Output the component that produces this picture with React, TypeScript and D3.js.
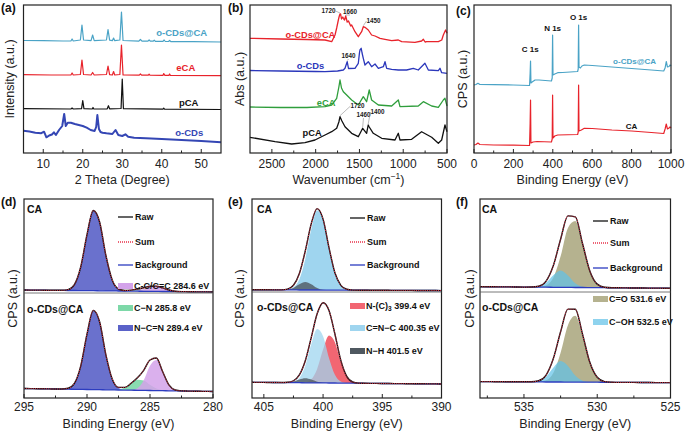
import React from "react";
import * as d3 from "d3";

const FONT = "'Liberation Sans', Arial, Helvetica, sans-serif";

// ===================== (a) XRD =====================
const xrdOCDsCA = [[5,112.5],[10,112.3],[15,112],[17,112],[17.3,114],[17.6,112],[19.4,113],[19.8,128],[20.2,113],[22.1,112.3],[22.5,118],[22.9,112.3],[26.0,113],[26.4,123.5],[26.8,112.8],[27.5,112.3],[27.8,115],[28.1,112.3],[29.4,113],[29.8,141],[30.2,112.5],[34.2,111.8],[34.6,113.5],[35,111.8],[36.5,111.8],[36.8,113],[37.1,111.8],[37.8,111.8],[38.1,112.8],[38.4,111.6],[40.3,111.6],[40.6,113],[40.9,111.5],[41.7,111.5],[42,112.5],[42.3,111.3],[48,111.3],[55,111]];
const xrdECA = [[5,78.3],[12,78],[17,78],[17.3,80],[17.6,78],[19.4,78.5],[19.8,93],[20.2,78.5],[22.1,78],[22.5,80.5],[22.9,78],[26.0,78.5],[26.4,87],[26.8,78.3],[27.5,78],[27.8,81.5],[28.1,78],[29.4,78.5],[29.8,108],[30.2,78],[34.3,77.8],[34.6,79],[34.9,77.8],[36.6,77.8],[36.8,78.8],[37.0,77.8],[40.3,77.6],[40.5,79.5],[40.8,77.6],[41.8,77.6],[42,79],[42.2,77.5],[55,77.3]];
const xrdPCA = [[5,44.3],[17,44],[17.3,45],[17.6,44],[19.7,44.3],[20.0,52.3],[20.3,44.3],[22.4,44],[22.6,45.5],[22.8,44],[26.2,44.2],[26.5,47.3],[26.8,44.2],[29.7,44.5],[30.0,74],[30.3,44.3],[40.3,43.8],[40.5,44.8],[40.7,43.8],[55,43.5]];
const xrdOCDs = [[5,22.3],[6.5,21.5],[8,20.3],[9.5,19.8],[10.2,21.3],[10.8,15.7],[11.5,17.5],[12.2,18.5],[12.7,20.7],[13.2,18],[14,23],[14.8,27],[15.3,39],[15.7,27],[16.2,30.3],[17,30.3],[18,29],[19,28],[20,27],[21,25.3],[22,23],[23,22],[23.4,26],[23.7,38],[24.1,24],[24.5,21],[25,20.3],[26,19.7],[27.5,19],[28.3,23],[29,18],[30,17],[30.8,18.7],[31.5,16.3],[33,15.3],[36,14.7],[40,14],[45,13],[50,12],[55,10.7]];
const xrdTicks = [10, 20, 30, 40, 50];
const xrdMinor = [15, 25, 35, 45];

// ===================== (b) FTIR =====================
const irOCDsCA = [[2750,114.7],[2400,114],[2100,113.5],[1893,113],[1817,111.3],[1779,118],[1760,125],[1741,133],[1730,137],[1722,139],[1715,139],[1705,134],[1690,136],[1684,134.7],[1670,133],[1657,137],[1640,131],[1625,132],[1600,127],[1589,128],[1551,121.3],[1513,116.3],[1475,121.3],[1456,126.3],[1437,125.7],[1399,123],[1361,118],[1322,117],[1265,114.7],[1208,113.7],[1132,112.3],[1056,113],[1018,111.3],[866,110.7],[790,112],[770,113.7],[750,111],[732,111.3],[599,111.3],[560,113],[542,118],[516,123],[500,119.7]];
const irOCDs = [[2750,82.5],[2400,82],[2000,81.5],[1893,81.3],[1750,82],[1684,83],[1665,84.7],[1640,91.3],[1625,84.5],[1551,84.7],[1513,89.7],[1500,100],[1494,103],[1480,104.7],[1470,100],[1456,94.7],[1437,88],[1399,91.3],[1361,86.3],[1322,89],[1284,84.7],[1227,86.3],[1208,91.3],[1189,84.7],[1132,83.7],[1056,83],[961,83],[885,84.7],[828,83],[752,89.7],[713,83],[599,82.3],[580,84.7],[561,80.3],[500,79.7]];
const irECA = [[2750,46],[2400,45.5],[2100,45.5],[1893,46.3],[1817,48],[1760,54.7],[1735,66],[1722,73],[1705,65],[1684,61.3],[1646,58],[1589,53],[1513,48],[1456,56.3],[1418,51.3],[1388,63],[1361,53],[1284,48],[1132,47],[1056,53],[1037,46.3],[828,47],[770,51.3],[675,47],[599,45.7],[542,53],[523,54.7],[500,47]];
const irPCA = [[2750,15.7],[2464,11.3],[2274,9],[2122,10.3],[2008,13],[1893,18],[1817,21.3],[1760,24.7],[1735,31],[1722,36.3],[1700,32],[1665,26.3],[1589,19.7],[1513,16.3],[1463,24.7],[1418,19.7],[1400,28],[1388,26],[1342,19.7],[1246,14.7],[1094,13],[1056,19.7],[1037,13],[904,13.7],[790,21.3],[675,15.7],[599,9.7],[561,13],[523,28],[500,21.3]];
const irTicks = [2500, 2000, 1500, 1000, 500];
const irMinor = [2250, 1750, 1250, 750];
const irPeakLabels = ["1720", "1660", "1450", "1640", "1720", "1460", "1400"];
const irPeakLabelWn = [1853, 1608, 1340, 1625, 1522, 1454, 1294];
const irPeakLabelVal = [140, 139, 130, 95, 45, 36, 39];
const irPeakWn = [1722, 1657, 1456, 1640, 1722, 1463, 1400];
const irPeakVal = [139, 137, 126.3, 91.3, 36.3, 24.7, 28];

// ===================== (c) XPS survey =====================
const surveyOCDsCA = [[0,68],[10,68.5],[20,69.7],[30,68.5],[100,68.3],[200,68],[282,67.5],[285,80],[287,92],[289,70],[295,71],[310,73],[330,73],[393,72],[397,75],[399,118],[401,78],[410,79],[425,80.3],[450,80.5],[526,81.5],[529,84],[531,128],[533,86],[540,85],[548,87],[560,88],[600,87.5],[700,86],[800,84.5],[900,83],[963,82],[970,85],[976,91.5],[982,86],[990,86.5],[995,88],[1000,87]];
const surveyCA = [[0,8],[10,8.5],[20,10],[30,8.5],[100,8],[200,7.8],[282,7.5],[285,30],[287,53],[289,10],[300,11],[320,11.5],[393,11],[397,14],[399,58],[401,15],[410,17],[425,18],[526,18.5],[529,21],[531,68],[533,22],[545,23],[560,24.7],[600,24.5],[700,23],[800,22],[900,20.5],[963,19.5],[970,24],[976,29],[982,24],[990,25],[995,26],[1000,25]];
const surveyTicks = [0, 200, 400, 600, 800, 1000];
const surveyMinor = [100, 300, 500, 700, 900];

// ===================== (d) C 1s =====================
const dGrid = [295,294.5,294,293.5,293,292.5,292,291.5,291,290.5,290,289.5,289,288.5,288,287.5,287,286.5,286,285.5,285,284.5,284,283.5,283,282.5,282,281.5,281,280.5,280];
const dBgCA = [108,107.9,107.9,107.8,107.7,107.7,107.6,107.5,107.5,107.4,107.3,107.3,107.2,107.1,107.1,107,106.9,106.9,106.8,106.7,106.7,106.6,106.5,106.5,106.4,106.3,106.3,106.2,106.1,106.1,106];
const dNCN_CA = [0,0,0,0,0,0,0.1,0.9,5.9,23.6,56.1,80.2,68.8,35.4,10.9,2.0,0.2,0,0,0,0,0,0,0,0,0,0,0,0,0,0];
const dCN_CA = [0,0,0,0,0,0,0,0,0,0,0,0,0,0,0,0,0.35,0.9,1.45,1.37,0.78,0.27,0.05,0,0,0,0,0,0,0,0];
const dCC_CA = [0,0,0,0,0,0,0,0,0,0,0,0,0,0,0,0,0,0.1,0.7,2.2,4.2,5.0,3.5,1.5,0.4,0.1,0,0,0,0,0];
const dBgO = [9.5,9.4,9.3,9.2,9.1,9.0,8.9,8.8,8.7,8.6,8.5,8.4,8.3,8.2,8.1,8.0,7.9,7.8,7.7,7.6,7.5,7.4,7.3,7.2,7.1,7.0,6.9,6.8,6.7,6.6,6.5];
const dNCN_O = [0,0,0,0,0,0,0.1,0.9,5.9,23.3,55.4,79.2,67.9,35.0,10.8,2.0,0.2,0,0,0,0,0,0,0,0,0,0,0,0,0,0];
const dCN_O = [0,0,0,0,0,0,0,0,0,0,0,0,0,0,0.1,0.6,2.5,6.7,10.5,10.0,5.7,2.0,0.4,0.1,0,0,0,0,0,0,0];
const dCC_O = [0,0,0,0,0,0,0,0,0,0,0,0,0,0,0,0,0,0.2,2.0,10.1,24.8,30.6,18.8,5.8,0.9,0.1,0,0,0,0,0];
const dTicks = [295, 290, 285, 280];
const dMinor = [292.5, 287.5, 282.5];
const dLegend = ["C-C/C=C 284.6 eV", "C\u2212N 285.8 eV", "N\u2212C=N 289.4 eV"];

// ===================== (e) N 1s =====================
const eGrid = [406,405.5,405,404.5,404,403.5,403,402.5,402,401.5,401,400.5,400,399.5,399,398.5,398,397.5,397,396.5,396,395.5,395,394.5,394,393.5,393,392.5,392,391.5,391,390.5,390];
const eBgCA = [108.2,108.2,108.2,108.2,108.1,108.1,108.1,108.1,108,108,108,108,107.9,107.9,107.9,107.9,107.8,107.8,107.8,107.8,107.7,107.7,107.7,107.7,107.6,107.6,107.6,107.6,107.5,107.5,107.5,107.5,107.4];
const eCNC_CA = [0,0,0,0,0,0,0.4,2.6,10.8,31.1,60.4,79.4,70.6,42.5,17.3,4.8,0.9,0.1,0,0,0,0,0,0,0,0,0,0,0,0,0,0,0];
const eNH_CA = [0,0,0,0,0,0,0.35,2.0,5.7,8.0,5.7,2.0,0.35,0,0,0,0,0,0,0,0,0,0,0,0,0,0,0,0,0,0,0,0];
const eBgO = [15.7,15.65,15.6,15.55,15.5,15.45,15.4,15.35,15.3,15.2,15.2,15.1,15.1,15.0,15.0,14.9,14.9,14.8,14.8,14.7,14.6,14.6,14.5,14.5,14.4,14.4,14.3,14.3,14.2,14.2,14.1,14.1,14.0];
const eCNC_O = [0,0,0,0,0,0,0.1,0.8,4.6,17.0,38.5,54.0,46.7,25.0,8.2,1.7,0.2,0,0,0,0,0,0,0,0,0,0,0,0,0,0,0,0];
const eNC3_O = [0,0,0,0,0,0,0,0,0,0.5,3.5,14.0,33.3,47.5,40.8,21.0,6.5,1.2,0.1,0,0,0,0,0,0,0,0,0,0,0,0,0,0];
const eNH_O = [0,0,0,0,0,0,0.2,1.1,3.2,4.5,3.2,1.1,0.2,0,0,0,0,0,0,0,0,0,0,0,0,0,0,0,0,0,0,0,0];
const eTicks = [405, 400, 395, 390];
const eMinor = [402.5, 397.5, 392.5];

// ===================== (f) O 1s =====================
const fGrid = [538,537.5,537,536.5,536,535.5,535,534.5,534,533.5,533,532.5,532,531.5,531,530.5,530,529.5,529,528.5,528,527.5,527,526.5,526,525.5,525];
const fBgCA = [111.3,111.2,111.2,111.1,111.1,111.0,110.9,110.9,110.8,110.8,110.7,110.6,110.6,110.5,110.5,110.4,110.3,110.3,110.2,110.2,110.1,110.0,110.0,109.9,109.9,109.8,109.7];
const fCO_CA = [0,0,0,0,0,0,0,0,0.2,1.7,9.5,31.1,59.5,66.4,43.0,16.3,3.6,0.4,0,0,0,0,0,0,0,0,0];
const fCOH_CA = [0,0,0,0,0,0,0,0.1,0.7,4.2,12.0,17.0,12.0,4.2,0.7,0.1,0,0,0,0,0,0,0,0,0,0,0];
const fBgO = [16.4,16.4,16.3,16.3,16.2,16.2,16.2,16.1,16.1,16.0,16.0,16.0,15.9,15.9,15.8,15.8,15.8,15.7,15.7,15.6,15.6,15.6,15.5,15.5,15.4,15.4,15.4];
const fCO_O = [0,0,0,0,0,0,0,0,0.2,1.7,9.0,29.3,56.9,66.3,46.4,19.5,4.9,0.7,0.1,0,0,0,0,0,0,0,0];
const fCOH_O = [0,0,0,0,0,0,0,0.1,0.9,5.0,14.2,20.9,16.1,6.5,1.4,0.1,0,0,0,0,0,0,0,0,0,0,0];
const fTicks = [535, 530, 525];
const fMinor = [537.5, 532.5, 527.5];

// ===================== colours =====================
const TEAL = "#4aa3c6";
const RED = "#e8232b";
const BLACK = "#111111";
const BLUE_A = "#3446b4";
const BLUE_B = "#2b37bb";
const GREEN = "#2f9e3c";
const BG_BLUE = "#2c3cc0";
const SUM_RED = "#e8324a";

// ===================== scales =====================
const yTop = d3.scaleLinear().domain([0, 148]).range([153, 5]);
const yBot = d3.scaleLinear().domain([0, 198]).range([398, 200]);
const xA = d3.scaleLinear().domain([5, 55]).range([23.5, 221]);
const xB = d3.scaleLinear().domain([2750, 500]).range([250, 447]);
const xC = d3.scaleLinear().domain([0, 1000]).range([474, 671]);
const xD = d3.scaleLinear().domain([295, 280]).range([24, 213]);
const xE = d3.scaleLinear().domain([406, 390]).range([252, 441.5]);
const xF = d3.scaleLinear().domain([538, 525]).range([480, 670.5]);

type Sc = d3.ScaleLinear<number, number>;

function Frame(p: {
  x: Sc; y0: number; y1: number; major: number[]; minor: number[];
  tickY: number; titleY: number; xTitle: React.ReactNode; yTitle: string; yTitleX: number;
  letter: string; lx: number; ly: number; divider?: number;
}) {
  const [x0, x1] = p.x.range();
  return (
    <g>
      <rect x={x0} y={p.y0} width={x1 - x0} height={p.y1 - p.y0} fill="none" stroke="#222" strokeWidth={1.2} />
      {p.divider !== undefined && (
        <line x1={x0} x2={x1} y1={p.divider} y2={p.divider} stroke="#555" strokeWidth={0.8} />
      )}
      {p.major.map((t) => (
        <g key={"M" + t}>
          <line x1={p.x(t)} x2={p.x(t)} y1={p.y1} y2={p.y1 - 4} stroke="#222" strokeWidth={1} />
          <text x={p.x(t)} y={p.tickY} fontSize={12} textAnchor="middle" fill="#222">{t}</text>
        </g>
      ))}
      {p.minor.map((t) => (
        <line key={"m" + t} x1={p.x(t)} x2={p.x(t)} y1={p.y1} y2={p.y1 - 2.5} stroke="#222" strokeWidth={1} />
      ))}
      <text x={(x0 + x1) / 2} y={p.titleY} fontSize={12.5} textAnchor="middle" fill="#222">{p.xTitle}</text>
      <text transform={`translate(${p.yTitleX},${(p.y0 + p.y1) / 2}) rotate(-90)`} fontSize={12.5} textAnchor="middle" fill="#222">{p.yTitle}</text>
      <text x={p.lx} y={p.ly} fontSize={12} fontWeight="bold" fill="#111">{p.letter}</text>
    </g>
  );
}

function Curve({ data, x, y, color, w = 1.2 }: { data: number[][]; x: Sc; y: Sc; color: string; w?: number }) {
  const gen = d3.line<number[]>().x((d) => x(d[0])).y((d) => y(d[1]));
  return <path d={gen(data) || ""} fill="none" stroke={color} strokeWidth={w} strokeLinejoin="round" />;
}

type Comp = { values: number[]; fill: string; opacity: number };

function XpsSub({ x, grid, bg, comps }: { x: Sc; grid: number[]; bg: number[]; comps: Comp[] }) {
  const area = d3.area<number>()
    .x((_, i) => x(grid[i]))
    .y0((_, i) => yBot(bg[i]))
    .y1((v, i) => yBot(bg[i] + v))
    .curve(d3.curveMonotoneX);
  const line = d3.line<number>().x((_, i) => x(grid[i])).y((v) => yBot(v)).curve(d3.curveMonotoneX);
  const sum = grid.map((_, i) => bg[i] + comps.reduce((s, c) => s + c.values[i], 0));
  return (
    <g>
      {comps.map((c, k) => (
        <path key={k} d={area(c.values) || ""} fill={c.fill} fillOpacity={c.opacity} stroke="none" />
      ))}
      <path d={line(bg) || ""} fill="none" stroke={BG_BLUE} strokeWidth={1.3} />
      <path d={line(sum) || ""} fill="none" stroke="#111" strokeWidth={1.4} />
      <path d={line(sum) || ""} fill="none" stroke={SUM_RED} strokeWidth={1} strokeDasharray="1 1.2" />
    </g>
  );
}

function LineLegend({ x, ys }: { x: number; ys: number[] }) {
  const items = [
    { t: "Raw", c: "#111", dash: undefined as string | undefined },
    { t: "Sum", c: SUM_RED, dash: "1 1" },
    { t: "Background", c: BG_BLUE, dash: undefined },
  ];
  return (
    <g>
      {items.map((it, i) => (
        <g key={it.t}>
          <line x1={x} x2={x + 15} y1={ys[i]} y2={ys[i]} stroke={it.c} strokeWidth={1.3} strokeDasharray={it.dash} />
          <text x={x + 17} y={ys[i] + 3.2} fontSize={9} fontWeight="bold" fill="#111">{it.t}</text>
        </g>
      ))}
    </g>
  );
}

function SwatchLegend({ x, ys, labels, colors }: { x: number; ys: number[]; labels: React.ReactNode[]; colors: string[] }) {
  return (
    <g>
      {labels.map((l, i) => (
        <g key={i}>
          <rect x={x} y={ys[i] - 3} width={15} height={6} fill={colors[i]} />
          <text x={x + 16} y={ys[i] + 3.2} fontSize={9} fontWeight="bold" fill="#111">{l}</text>
        </g>
      ))}
    </g>
  );
}

export default function App() {
  const lbl = (t: string, x: number, y: number, color: string, anchor: string = "end", size = 9.5) => (
    <text x={x} y={y} fontSize={size} fontWeight="bold" fill={color} textAnchor={anchor as any}>{t}</text>
  );
  return (
    <svg width={685} height={431} style={{ position: "absolute", left: 0, top: 0 }} fontFamily={FONT}>
      <rect width={685} height={431} fill="#fff" />

      {/* (a) */}
      <Curve data={xrdOCDs} x={xA} y={yTop} color={BLUE_A} w={2} />
      <Curve data={xrdPCA} x={xA} y={yTop} color={BLACK} />
      <Curve data={xrdECA} x={xA} y={yTop} color={RED} />
      <Curve data={xrdOCDsCA} x={xA} y={yTop} color={TEAL} />
      {lbl("o-CDs@CA", xA(51.5), yTop(117), TEAL)}
      {lbl("eCA", xA(48.5), yTop(82), RED)}
      {lbl("pCA", xA(49.3), yTop(47), BLACK)}
      {lbl("o-CDs", xA(50.5), yTop(17), BLUE_A)}
      <Frame x={xA} y0={5} y1={153} major={xrdTicks} minor={xrdMinor} tickY={168} titleY={184}
        xTitle="2 Theta (Degree)" yTitle="Intensity (a.u.)" yTitleX={14} letter="(a)" lx={1} ly={12} />

      {/* (b) */}
      <Curve data={irPCA} x={xB} y={yTop} color={BLACK} w={1.3} />
      <Curve data={irECA} x={xB} y={yTop} color={GREEN} w={1.3} />
      <Curve data={irOCDs} x={xB} y={yTop} color={BLUE_B} w={1.3} />
      <Curve data={irOCDsCA} x={xB} y={yTop} color={RED} w={1.3} />
      {lbl("o-CDs@CA", xB(2060), yTop(115), RED, "middle", 9.3)}
      {lbl("o-CDs", xB(2060), yTop(84), BLUE_B, "middle", 9.3)}
      {lbl("eCA", xB(1880), yTop(47), GREEN, "middle", 9.3)}
      {lbl("pCA", xB(2040), yTop(17), BLACK, "middle", 9.3)}
      {irPeakLabels.map((t, i) => {
        const lx = xB(irPeakLabelWn[i]);
        const ly = yTop(irPeakLabelVal[i]);
        const px = xB(irPeakWn[i]);
        const py = yTop(irPeakVal[i]);
        const dx = px - lx;
        const sx = Math.abs(dx) > 7 ? lx + Math.sign(dx) * 7 : lx;
        const sy = Math.abs(dx) > 7 ? ly - 2 : ly + 1;
        return (
          <g key={i}>
            <line x1={sx} y1={sy} x2={px} y2={py - 1} stroke="#777" strokeWidth={0.5} />
            <text x={lx} y={ly} fontSize={6.3} fontWeight="bold" textAnchor="middle" fill="#222">{t}</text>
          </g>
        );
      })}
      <Frame x={xB} y0={5} y1={153} major={irTicks} minor={irMinor} tickY={168} titleY={184}
        xTitle={<>Wavenumber (cm<tspan fontSize={8.5} dy={-5}>{"\u22121"}</tspan><tspan dy={5}>)</tspan></>}
        yTitle="Abs (a.u.)" yTitleX={244} letter="(b)" lx={228} ly={12} />

      {/* (c) */}
      <Curve data={surveyCA} x={xC} y={yTop} color={RED} />
      <Curve data={surveyOCDsCA} x={xC} y={yTop} color={TEAL} />
      {lbl("C 1s", xC(285), yTop(101), "#111", "middle", 8)}
      {lbl("N 1s", xC(399), yTop(122), "#111", "middle", 8)}
      {lbl("O 1s", xC(531), yTop(133), "#111", "middle", 8)}
      {lbl("o-CDs@CA", xC(815), yTop(89), TEAL, "middle", 8)}
      {lbl("CA", xC(800), yTop(24), "#111", "middle", 8)}
      <Frame x={xC} y0={5} y1={153} major={surveyTicks} minor={surveyMinor} tickY={168} titleY={184}
        xTitle="Binding Energy (eV)" yTitle="CPS (a.u.)" yTitleX={467} letter="(c)" lx={456} ly={15} />

      {/* (d) */}
      <XpsSub x={xD} grid={dGrid} bg={dBgCA} comps={[
        { values: dNCN_CA, fill: "#5a62c8", opacity: 0.9 },
        { values: dCN_CA, fill: "#7dd8a8", opacity: 0.9 },
        { values: dCC_CA, fill: "#d3a2ea", opacity: 0.85 },
      ]} />
      <XpsSub x={xD} grid={dGrid} bg={dBgO} comps={[
        { values: dNCN_O, fill: "#5a62c8", opacity: 0.9 },
        { values: dCN_O, fill: "#7dd8a8", opacity: 0.9 },
        { values: dCC_O, fill: "#d3a2ea", opacity: 0.85 },
      ]} />
      {lbl("CA", 27, 213, "#111", "start", 10.5)}
      {lbl("o-CDs@CA", 27, 313, "#111", "start", 10.5)}
      <LineLegend x={118} ys={[217, 242, 265]} />
      <SwatchLegend x={118} ys={[286, 308, 328]} labels={dLegend} colors={["#d3a2ea", "#7dd8a8", "#5a62c8"]} />
      <Frame x={xD} y0={199} y1={398} major={dTicks} minor={dMinor} tickY={411} titleY={427.5}
        xTitle="Binding Energy (eV)" yTitle="CPS (a.u.)" yTitleX={17} letter="(d)" lx={1} ly={206} divider={293} />

      {/* (e) */}
      <XpsSub x={xE} grid={eGrid} bg={eBgCA} comps={[
        { values: eCNC_CA, fill: "#9fd5ef", opacity: 1 },
        { values: eNH_CA, fill: "#4f5860", opacity: 0.8 },
      ]} />
      <XpsSub x={xE} grid={eGrid} bg={eBgO} comps={[
        { values: eNC3_O, fill: "#f26672", opacity: 1 },
        { values: eCNC_O, fill: "#9fd5ef", opacity: 0.75 },
        { values: eNH_O, fill: "#4f5860", opacity: 0.8 },
      ]} />
      {lbl("CA", 257, 213, "#111", "start", 10.5)}
      {lbl("o-CDs@CA", 257, 311, "#111", "start", 10.5)}
      <LineLegend x={350} ys={[218, 242, 265]} />
      <SwatchLegend x={350} ys={[306, 328, 351]}
        labels={[<>N-(C)<tspan fontSize={6.5} dy={2}>3</tspan><tspan dy={-2}> 399.4 eV</tspan></>, "C=N\u2212C 400.35 eV", "N\u2212H 401.5 eV"]}
        colors={["#f26672", "#9fd5ef", "#4f5860"]} />
      <Frame x={xE} y0={199} y1={398} major={eTicks} minor={eMinor} tickY={411} titleY={427.5}
        xTitle="Binding Energy (eV)" yTitle="CPS (a.u.)" yTitleX={244} letter="(e)" lx={228} ly={206} divider={292} />

      {/* (f) */}
      <XpsSub x={xF} grid={fGrid} bg={fBgCA} comps={[
        { values: fCO_CA, fill: "#b5b28f", opacity: 1 },
        { values: fCOH_CA, fill: "#5fc2e8", opacity: 0.7 },
      ]} />
      <XpsSub x={xF} grid={fGrid} bg={fBgO} comps={[
        { values: fCO_O, fill: "#b5b28f", opacity: 1 },
        { values: fCOH_O, fill: "#5fc2e8", opacity: 0.7 },
      ]} />
      {lbl("CA", 482, 213, "#111", "start", 10.5)}
      {lbl("o-CDs@CA", 482, 311, "#111", "start", 10.5)}
      <LineLegend x={593} ys={[221, 243, 268]} />
      <SwatchLegend x={593} ys={[299, 322]} labels={["C=O 531.6 eV", "C\u2212OH 532.5 eV"]} colors={["#b5b28f", "#8fd3ee"]} />
      <Frame x={xF} y0={199} y1={398} major={fTicks} minor={fMinor} tickY={411} titleY={427.5}
        xTitle="Binding Energy (eV)" yTitle="CPS (a.u.)" yTitleX={474} letter="(f)" lx={456} ly={206} divider={292} />
    </svg>
  );
}
